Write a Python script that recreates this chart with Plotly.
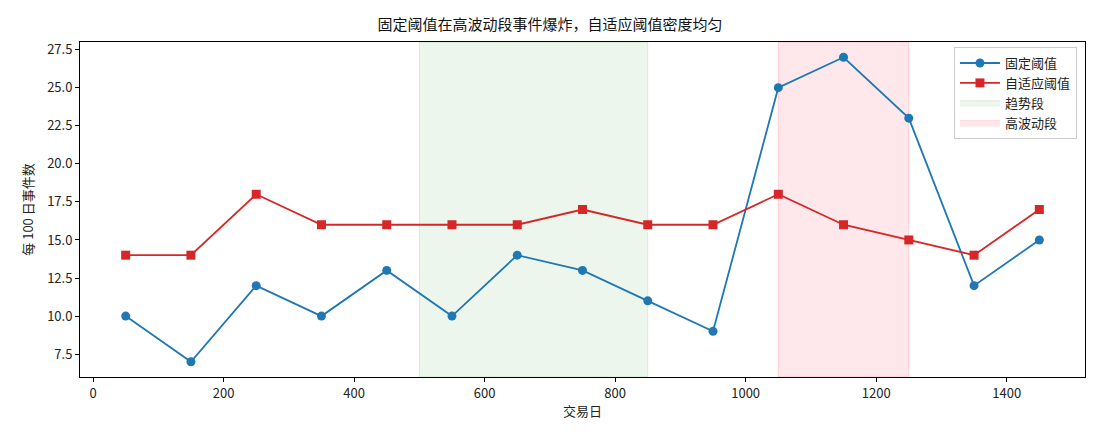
import plotly.graph_objects as go

days = [50, 150, 250, 350, 450, 550, 650, 750, 850, 950, 1050, 1150, 1250, 1350, 1450]
fixed = [10, 7, 12, 10, 13, 10, 14, 13, 11, 9, 25, 27, 23, 12, 15]
adaptive = [14, 14, 18, 16, 16, 16, 16, 17, 16, 16, 18, 16, 15, 14, 17]
trend_seg = [500, 850]
vol_seg = [1050, 1250]
y_ticks = [7.5, 10.0, 12.5, 15.0, 17.5, 20.0, 22.5, 25.0, 27.5]
x_ticks = [0, 200, 400, 600, 800, 1000, 1200, 1400]

FONT = "Noto Sans CJK SC, Liberation Sans, sans-serif"
blue = "#1f77b4"
red = "#d62728"
green_fill = "rgba(44,160,44,0.09)"
green_line = "rgba(44,160,44,0.15)"
red_fill = "rgba(255,0,40,0.09)"
red_line = "rgba(255,0,40,0.15)"

fig = go.Figure()
fig.add_vrect(x0=trend_seg[0], x1=trend_seg[1], fillcolor=green_fill,
              line=dict(color=green_line, width=1), layer="below")
fig.add_vrect(x0=vol_seg[0], x1=vol_seg[1], fillcolor=red_fill,
              line=dict(color=red_line, width=1), layer="below")

fig.add_trace(go.Scatter(x=days, y=fixed, mode="lines+markers", name="固定阈值",
                         line=dict(color=blue, width=1.8),
                         marker=dict(symbol="circle", size=9, color=blue)))
fig.add_trace(go.Scatter(x=days, y=adaptive, mode="lines+markers", name="自适应阈值",
                         line=dict(color=red, width=1.8),
                         marker=dict(symbol="square", size=9, color=red)))
fig.add_trace(go.Scatter(x=[None, None], y=[None, None], mode="lines", fill="toself",
                         name="趋势段", fillcolor=green_fill,
                         line=dict(color=green_line, width=1)))
fig.add_trace(go.Scatter(x=[None, None], y=[None, None], mode="lines", fill="toself",
                         name="高波动段", fillcolor=red_fill,
                         line=dict(color=red_line, width=1)))

axis_common = dict(showline=True, linecolor="black", linewidth=1, mirror=True,
                   ticks="outside", ticklen=4, tickcolor="black", showgrid=False,
                   zeroline=False, tickfont=dict(size=13, color="#222"))

fig.update_layout(
    width=1100, height=440,
    margin=dict(l=80, r=15, t=42, b=63),
    paper_bgcolor="white", plot_bgcolor="white",
    font=dict(family=FONT, size=13, color="#222"),
    title=dict(text="固定阈值在高波动段事件爆炸，自适应阈值密度均匀", x=0.5, xanchor="center",
               y=1 - 25 / 440, yanchor="middle", font=dict(size=15, color="#111")),
    xaxis=dict(range=[-20, 1520], tickvals=x_ticks, title=dict(text="交易日", standoff=6,
               font=dict(size=13)), **axis_common),
    yaxis=dict(range=[6, 28], tickvals=y_ticks, ticktext=[f"{v:.1f}" for v in y_ticks],
               title=dict(text="每 100 日事件数", standoff=10, font=dict(size=13)), **axis_common),
    legend=dict(x=0.992, y=0.985, xanchor="right", yanchor="top", bgcolor="rgba(255,255,255,0.8)",
                bordercolor="#cccccc", borderwidth=1, font=dict(size=13), tracegroupgap=0,
                itemwidth=40),
    showlegend=True,
)

fig.write_html("out.html")
